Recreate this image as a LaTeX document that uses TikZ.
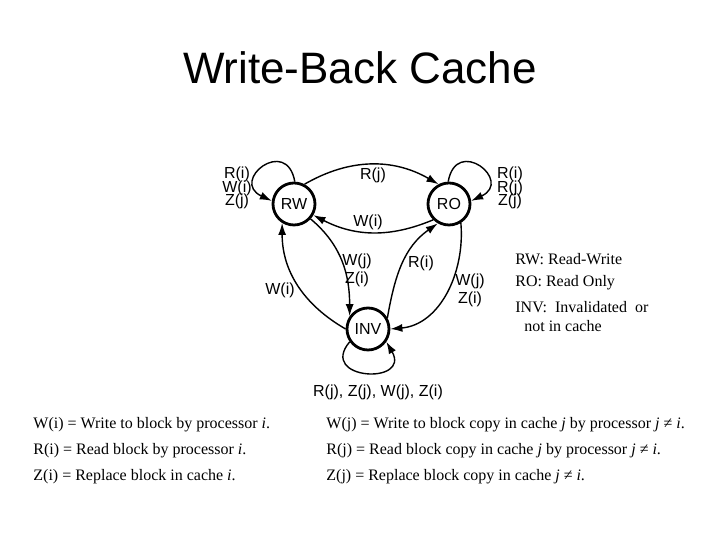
\documentclass[tikz,border=0pt]{standalone}
\usepackage{fontspec}
\setmainfont{Liberation Serif}
\setsansfont{Liberation Sans}
\usetikzlibrary{arrows.meta, positioning}

\begin{document}
\begin{tikzpicture}[x=0.5pt, y=0.5pt,
    state/.style={circle, draw, line width=1.4pt, minimum size=21pt, inner sep=0pt, font=\sffamily\fontsize{8}{9}\selectfont},
    edge/.style={line width=0.7pt, -{Latex[length=6pt, width=4pt]}},
    lbl/.style={font=\sffamily\fontsize{8}{9}\selectfont, inner sep=0pt, align=center},
    note/.style={font=\fontsize{8}{9.6}\selectfont, inner sep=0pt, anchor=west}]

  \useasboundingbox (0,0) rectangle (720,540);
  \node[font=\sffamily\fontsize{22}{26}\selectfont] (title) at (360,472) {Write-Back Cache};

  % States of the block in cache i.
  \node[state] (rw) at (294,336) {RW};
  \node[state] (ro) at (449,336) {RO};
  \node[state] (inv) at (368,211) {INV};

  % RW <-> RO.
  \draw[edge] (rw.62) to[bend left=30] (ro.118);
  \node[lbl] (rj) at (373,365) {R(j)};
  \draw[edge] (ro.225) to[bend left=25] (rw.-30);
  \node[lbl] (wi) at (368,318) {W(i)};

  % Self-loops.
  \draw[edge] (rw.88) to[out=100, in=155, looseness=4] (rw.172);
  \node[lbl] (rwloop) at (237,352) {R(i)\\[-2.4pt]W(i)\\[-2.4pt]Z(j)};
  \draw[edge] (ro.92) to[out=80, in=25, looseness=4] (ro.8);
  \node[lbl] (roloop) at (510,352) {R(i)\\[-2.4pt]R(j)\\[-2.4pt]Z(j)};
  \draw[edge] (inv.215) to[out=230, in=-60, looseness=3.5] (inv.-35);
  \node[lbl] (invloop) at (378,148) {R(j), Z(j), W(j), Z(i)};

  % To and from INV.
  \draw[edge] (rw.-42) to[out=-40, in=90] (inv.145);
  \node[lbl] (rwinv) at (357,270) {W(j)\\Z(i)};
  \draw[edge] (inv.180) to[out=150, in=-90] (rw.238);
  \node[lbl] (invrw) at (280,250) {W(i)};
  \draw[edge] (inv.30) to[out=80, in=215] (ro.240);
  \node[lbl] (invro) at (421,277) {R(i)};
  \draw[edge] (ro.-58) to[out=-85, in=5] (inv.0);
  \node[lbl] (roinv) at (470,250) {W(j)\\Z(i)};

  % Legend of states.
  \node[note] (lgrw) at (515,281) {RW: Read-Write};
  \node[note] (lgro) at (515,257) {RO: Read Only};
  \node[note] (lginv) at (515,233) {INV:\ \ Invalidated\ \ or};
  \node[note, anchor=center] (lgnic) at (563,214) {not in cache};

  % Events.
  \node[note] (dwi) at (33,115) {W(i) = Write to block by processor \emph{i}.};
  \node[note] (dri) at (33,89) {R(i) = Read block by processor \emph{i}.};
  \node[note] (dzi) at (33,63) {Z(i) = Replace block in cache \emph{i}.};
  \node[note] (dwj) at (326,115) {W(j) = Write to block copy in cache \emph{j} by processor \emph{j} ≠ \emph{i}.};
  \node[note] (drj) at (326,89) {R(j) = Read block copy in cache \emph{j} by processor \emph{j} ≠ \emph{i}.};
  \node[note] (dzj) at (326,63) {Z(j) = Replace block copy in cache \emph{j} ≠ \emph{i}.};
\end{tikzpicture}
\end{document}
